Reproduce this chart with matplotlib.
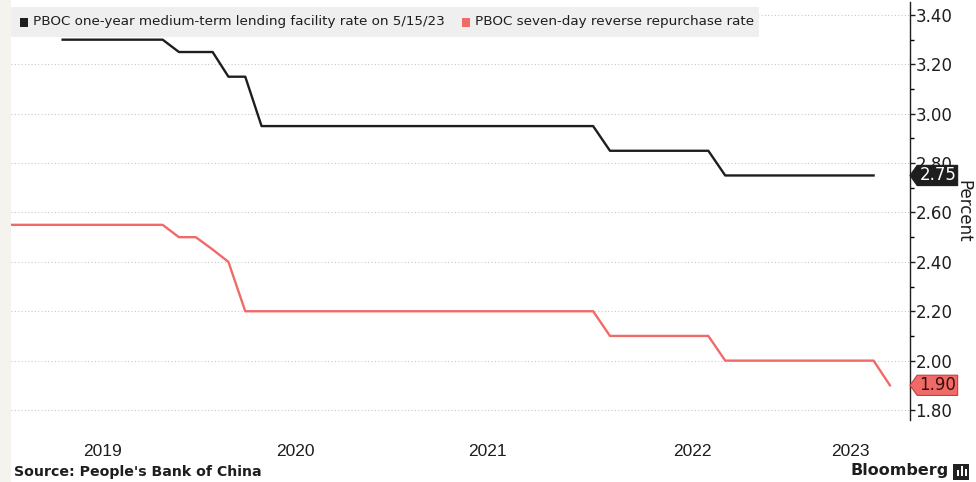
import numpy as np
import pandas as pd
import matplotlib
matplotlib.use("Agg")
import matplotlib.pyplot as plt
import matplotlib.transforms as mtransforms
from matplotlib.patches import Polygon, Rectangle

# month-end observations
repo_dates = pd.date_range("2018-12-31", "2023-06-30", freq="ME")
repo_rate = [2.55,
             2.55, 2.55, 2.55, 2.55, 2.55, 2.55, 2.55, 2.55, 2.55, 2.55, 2.50, 2.50,
             2.45, 2.40, 2.20, 2.20, 2.20, 2.20, 2.20, 2.20, 2.20, 2.20, 2.20, 2.20,
             2.20, 2.20, 2.20, 2.20, 2.20, 2.20, 2.20, 2.20, 2.20, 2.20, 2.20, 2.20,
             2.10, 2.10, 2.10, 2.10, 2.10, 2.10, 2.10, 2.00, 2.00, 2.00, 2.00, 2.00,
             2.00, 2.00, 2.00, 2.00, 2.00, 1.90]

mlf_dates = pd.date_range("2019-04-30", "2023-05-31", freq="ME")
mlf_rate = [3.30, 3.30, 3.30, 3.30, 3.30, 3.30, 3.30, 3.25, 3.25,
            3.25, 3.15, 3.15, 2.95, 2.95, 2.95, 2.95, 2.95, 2.95, 2.95, 2.95, 2.95,
            2.95, 2.95, 2.95, 2.95, 2.95, 2.95, 2.95, 2.95, 2.95, 2.95, 2.95, 2.95,
            2.85, 2.85, 2.85, 2.85, 2.85, 2.85, 2.85, 2.75, 2.75, 2.75, 2.75, 2.75,
            2.75, 2.75, 2.75, 2.75, 2.75]

year_pos = pd.to_datetime(["2019-07-12", "2020-07-01", "2021-06-20", "2022-07-01", "2023-04-18"])
year_labels = ["2019", "2020", "2021", "2022", "2023"]

BLACK = "#1e1e1e"
RED = "#f06b68"

fig = plt.figure(figsize=(9.76, 4.82), dpi=100)
fig.patch.set_facecolor("white")
W, H = 976, 482

# beige strip at left edge
fig.patches.append(Rectangle((0, 0), 11 / W, 1, transform=fig.transFigure,
                             facecolor="#f4f3ed", edgecolor="none", zorder=0))

ax = fig.add_axes([11 / W, 1 - 420 / H, (910 - 11) / W, 418 / H])
ax.set_facecolor("none")

ax.plot(repo_dates, repo_rate, color=RED, lw=1.7, zorder=3)
ax.plot(mlf_dates, mlf_rate, color=BLACK, lw=1.7, zorder=3)

ax.set_xlim(pd.Timestamp("2019-01-25"), pd.Timestamp("2023-08-06"))
ax.set_ylim(1.7595, 3.4526)

ax.yaxis.tick_right()
ax.set_yticks(np.arange(1.8, 3.41, 0.2))
ax.set_yticks(np.arange(1.9, 3.40, 0.2), minor=True)
ax.set_yticklabels([f"{v:.2f}" for v in np.arange(1.8, 3.41, 0.2)])
ax.tick_params(axis="y", which="major", direction="out", length=3.5, width=1,
               pad=0.5, labelsize=12, colors=BLACK)
ax.tick_params(axis="y", which="minor", direction="out", length=3, width=1)
ax.grid(axis="y", which="major", linestyle=(0, (1, 2)), color="#c8c8c8", lw=0.8)

ax.set_xticks(year_pos)
ax.set_xticklabels(year_labels, fontsize=12.5, color=BLACK,
                   family=["Liberation Sans Narrow", "Liberation Sans", "DejaVu Sans"])
ax.tick_params(axis="x", length=0, pad=17)

for s in ["top", "left", "bottom"]:
    ax.spines[s].set_visible(False)
ax.spines["right"].set_color(BLACK)
ax.spines["right"].set_linewidth(1)

ax.yaxis.set_label_position("right")
ax.set_ylabel("Percent", rotation=270, fontsize=12, color=BLACK, labelpad=14)

# value tags on the right axis
trans = mtransforms.blended_transform_factory(ax.transAxes, ax.transData)
def tag(v, fc, ec, tc):
    h = 0.041
    x0 = 1.0
    pts = [(x0, v), (x0 + 0.008, v + h), (x0 + 0.053, v + h),
           (x0 + 0.053, v - h), (x0 + 0.008, v - h)]
    ax.add_patch(Polygon(pts, closed=True, transform=trans, facecolor=fc,
                         edgecolor=ec, lw=0.8, clip_on=False, zorder=6))
    ax.text(x0 + 0.031, v, f"{v:.2f}", transform=trans, ha="center", va="center",
            fontsize=12, color=tc, zorder=7, clip_on=False)

tag(mlf_rate[-1], BLACK, BLACK, "white")
tag(repo_rate[-1], RED, "#c04040", "#3a1010")

# legend band
fig.patches.append(Rectangle((11 / W, 1 - 37 / H), (759 - 11) / W, 30 / H,
                             transform=fig.transFigure, facecolor="#efefef",
                             edgecolor="none", zorder=1))
fig.patches.append(Rectangle((20 / W, 1 - 27 / H), 8 / W, 9 / H,
                             transform=fig.transFigure, facecolor=BLACK,
                             edgecolor="none", zorder=2))
fig.text(33 / W, 1 - 22 / H, "PBOC one-year medium-term lending facility rate on 5/15/23",
         fontsize=9.7, color=BLACK, va="center", ha="left", zorder=3)
fig.patches.append(Rectangle((462 / W, 1 - 27 / H), 8 / W, 9 / H,
                             transform=fig.transFigure, facecolor=RED,
                             edgecolor="none", zorder=2))
fig.text(475 / W, 1 - 22 / H, "PBOC seven-day reverse repurchase rate",
         fontsize=9.7, color=BLACK, va="center", ha="left", zorder=3)

# footer
fig.text(14 / W, 1 - 472 / H, "Source: People's Bank of China", fontsize=10.2,
         fontweight="bold", color=BLACK, va="center", ha="left")
fig.text(949 / W, 1 - 471 / H, "Bloomberg", fontsize=11.5, fontweight="bold",
         color=BLACK, va="center", ha="right")
fig.patches.append(Rectangle((953 / W, 1 - 480 / H), 16 / W, 16 / H,
                             transform=fig.transFigure, facecolor="#222222",
                             edgecolor="none"))
for bx, bh in zip([957, 961, 965], [6, 10, 7]):
    fig.patches.append(Rectangle((bx / W, 1 - 476 / H), 1.6 / W, bh / H,
                                 transform=fig.transFigure, facecolor="white",
                                 edgecolor="none"))

fig.savefig("out.png", dpi=100)
